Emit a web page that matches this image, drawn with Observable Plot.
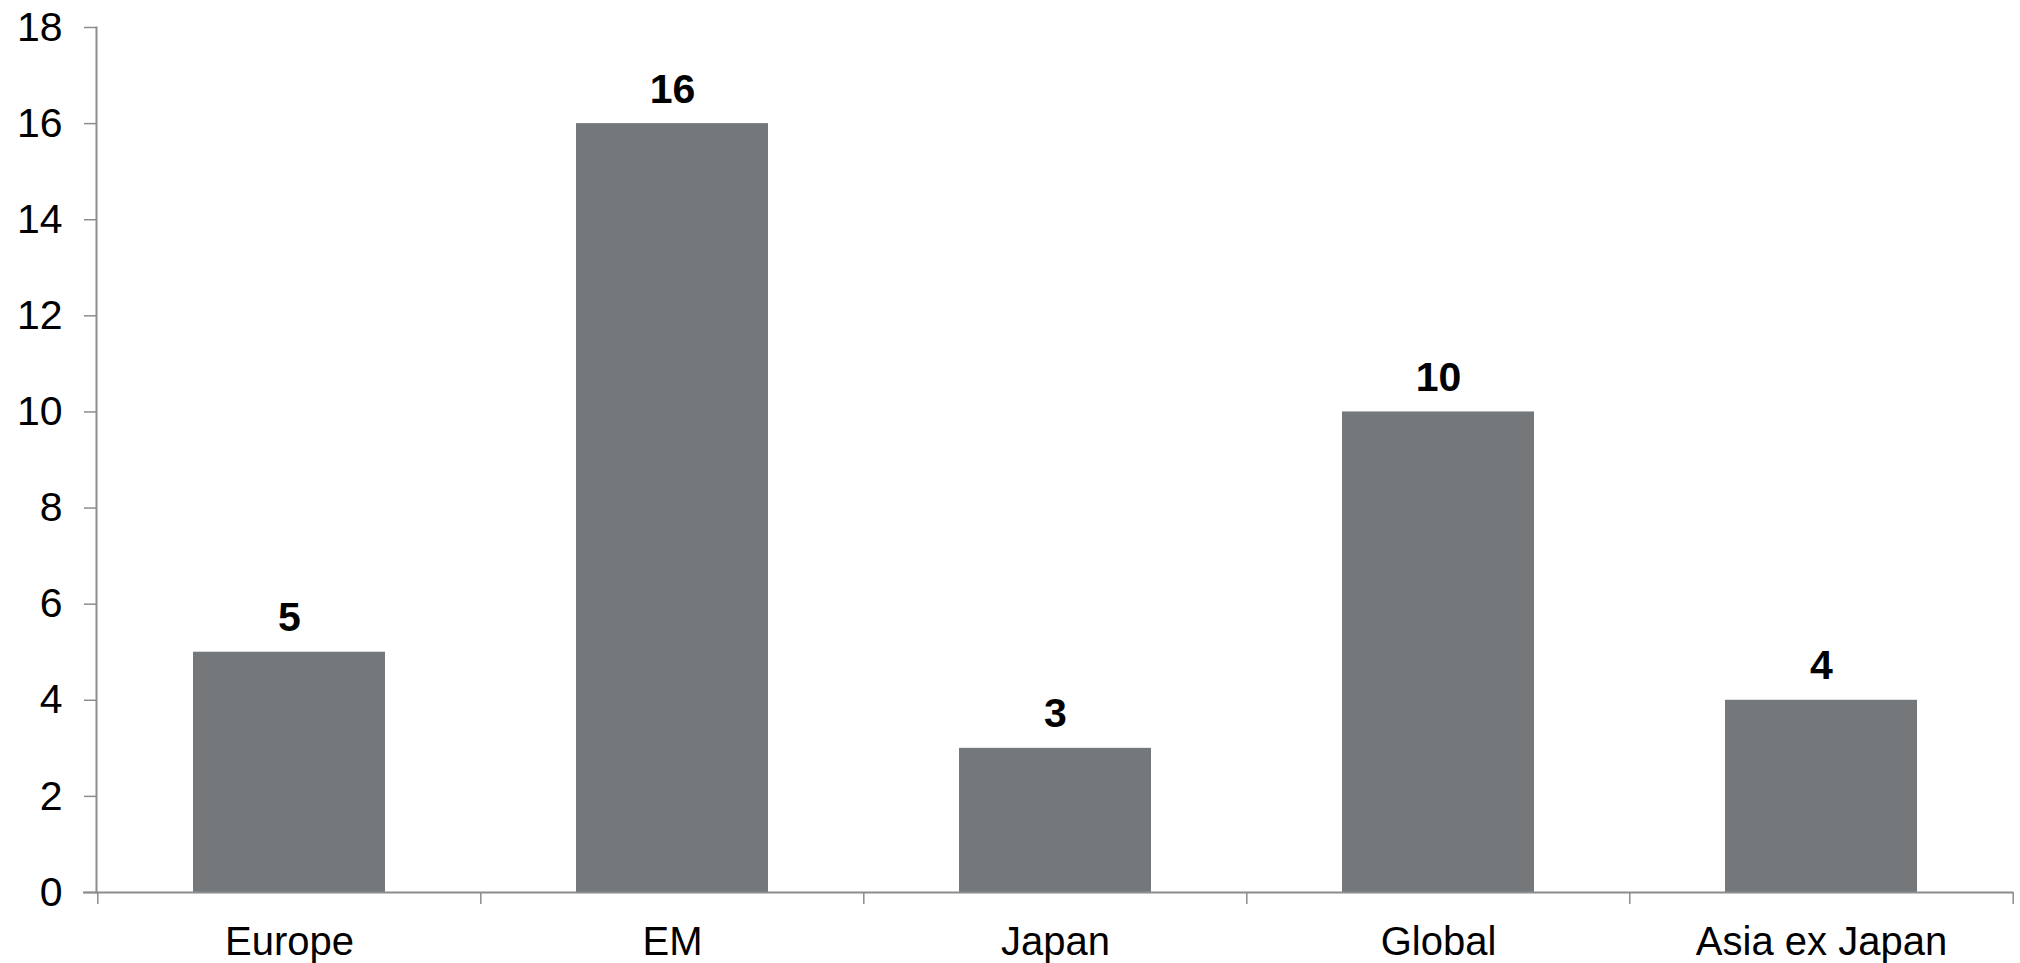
<!DOCTYPE html>
<html>
<head>
<meta charset="utf-8">
<script src="https://cdn.jsdelivr.net/npm/d3@7"></script>
<script src="https://cdn.jsdelivr.net/npm/@observablehq/plot@0.6"></script>
<style>
  html, body { margin: 0; padding: 0; background: #fff; }
  svg { display: block; }
</style>
</head>
<body>
<div id="chart"></div>
<script>
const categories = ["Europe", "EM", "Japan", "Global", "Asia ex Japan"];
const values = [5, 16, 3, 10, 4];
const yTicks = [0, 2, 4, 6, 8, 10, 12, 14, 16, 18];

const data = categories.map((c, i) => ({category: c, value: values[i]}));

const width = 2020, height = 963;
const mL = 96, mR = 7, mT = 27, mB = 71;
const step = (width - mL - mR) / categories.length;
const axisColor = "#8c8c8c";
const font = "'Liberation Sans', Arial, sans-serif";

const chart = Plot.plot({
  width, height,
  marginLeft: mL, marginRight: mR, marginTop: mT, marginBottom: mB,
  style: {fontFamily: font, background: "#fff", color: "#000"},
  x: {domain: categories, paddingInner: 0.5, paddingOuter: 0.25, label: null},
  y: {domain: [0, 18], label: null},
  marks: [
    Plot.barY(data, {x: "category", y: "value", fill: "#75787b"}),
    Plot.text(data, {x: "category", y: "value", text: d => String(d.value),
      dy: -21, lineAnchor: "bottom", fontSize: 41, fontWeight: "bold", fill: "#000"}),
    // y axis
    Plot.axisY({ticks: yTicks, tickSize: 12, tickPadding: 22, fontSize: 41,
      stroke: axisColor, strokeWidth: 1.5, color: "#000", label: null}),
    Plot.frame({anchor: "left", stroke: axisColor, strokeWidth: 2}),
    // x axis labels
    Plot.axisX({tickSize: 0, tickPadding: 34, fontSize: 40, label: null}),
    // boundary ticks
    Plot.axisX({tickSize: 12, tickFormat: () => "", dx: -step / 2, stroke: axisColor, strokeWidth: 1.5, label: null}),
    Plot.axisX({ticks: [categories[categories.length - 1]], tickSize: 12, tickFormat: () => "", dx: step / 2, stroke: axisColor, strokeWidth: 1.5, label: null}),
    Plot.ruleY([0], {stroke: axisColor, strokeWidth: 2, insetLeft: -13})
  ]
});
document.getElementById("chart").appendChild(chart);
</script>
</body>
</html>
